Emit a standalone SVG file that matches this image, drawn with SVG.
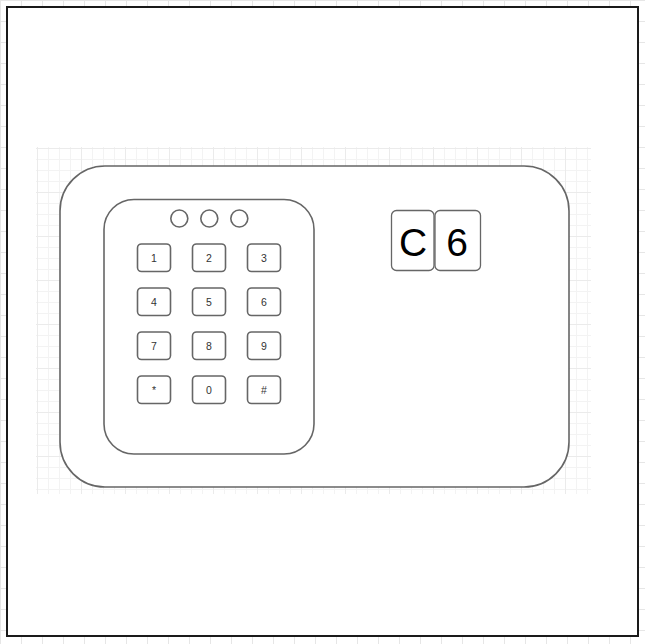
<svg xmlns="http://www.w3.org/2000/svg" width="645" height="644" viewBox="0 0 645 644">
<defs>
<pattern id="outer" x="0" y="0" width="21" height="21" patternUnits="userSpaceOnUse">
<path d="M0 0.5H21M0.5 0V21" stroke="#e6e6e6" stroke-width="1" fill="none"/>
</pattern>
<pattern id="minor" x="37" y="148" width="11" height="11" patternUnits="userSpaceOnUse">
<path d="M0 0.5H11M0.5 0V11" stroke="#f3f3f3" stroke-width="1" fill="none"/>
</pattern>
<pattern id="major" x="37" y="148" width="44" height="44" patternUnits="userSpaceOnUse">
<path d="M0 0.5H44M0.5 0V44" stroke="#ebebeb" stroke-width="1" fill="none"/>
</pattern>
</defs>
<style>
.dev{fill:#fff;stroke:#666;stroke-width:1.6}
.key{fill:#fff;stroke:#666;stroke-width:1.6}
.kl{font-family:"Liberation Sans",Arial,sans-serif;font-size:10.5px;fill:#333;text-anchor:middle}
.big{font-family:"Liberation Sans",Arial,sans-serif;font-size:39px;fill:#000;text-anchor:middle}
.disp{fill:#fff;stroke:#666;stroke-width:1.3}
</style>
<rect width="645" height="644" fill="#fff"/>
<rect width="645" height="644" fill="url(#outer)"/>
<rect x="7" y="7" width="631" height="629" fill="#fff" stroke="#1a1a1a" stroke-width="2"/>
<rect x="36" y="147" width="555" height="347" fill="url(#minor)"/>
<rect x="36" y="147" width="555" height="347" fill="url(#major)"/>
<g id="device">
<rect class="dev" x="60" y="166" width="509" height="321" rx="45" ry="45"/>
</g>
<g id="keypad">
<rect class="dev" x="104" y="199.5" width="210" height="254.5" rx="30" ry="30"/>
<circle class="dev" cx="179.3" cy="218.5" r="8.5"/>
<circle class="dev" cx="209.3" cy="218.5" r="8.5"/>
<circle class="dev" cx="239.3" cy="218.5" r="8.5"/>
</g>
<g id="key-1"><rect class="key" x="137.5" y="244" width="33" height="27.5" rx="4"/><text class="kl" x="154" y="261.5">1</text></g>
<g id="key-2"><rect class="key" x="192.5" y="244" width="33" height="27.5" rx="4"/><text class="kl" x="209" y="261.5">2</text></g>
<g id="key-3"><rect class="key" x="247.5" y="244" width="33" height="27.5" rx="4"/><text class="kl" x="264" y="261.5">3</text></g>
<g id="key-4"><rect class="key" x="137.5" y="288" width="33" height="27.5" rx="4"/><text class="kl" x="154" y="305.5">4</text></g>
<g id="key-5"><rect class="key" x="192.5" y="288" width="33" height="27.5" rx="4"/><text class="kl" x="209" y="305.5">5</text></g>
<g id="key-6"><rect class="key" x="247.5" y="288" width="33" height="27.5" rx="4"/><text class="kl" x="264" y="305.5">6</text></g>
<g id="key-7"><rect class="key" x="137.5" y="332" width="33" height="27.5" rx="4"/><text class="kl" x="154" y="349.5">7</text></g>
<g id="key-8"><rect class="key" x="192.5" y="332" width="33" height="27.5" rx="4"/><text class="kl" x="209" y="349.5">8</text></g>
<g id="key-9"><rect class="key" x="247.5" y="332" width="33" height="27.5" rx="4"/><text class="kl" x="264" y="349.5">9</text></g>
<g id="key-star"><rect class="key" x="137.5" y="376" width="33" height="27.5" rx="4"/><text class="kl" x="154" y="393.5">*</text></g>
<g id="key-0"><rect class="key" x="192.5" y="376" width="33" height="27.5" rx="4"/><text class="kl" x="209" y="393.5">0</text></g>
<g id="key-hash"><rect class="key" x="247.5" y="376" width="33" height="27.5" rx="4"/><text class="kl" x="264" y="393.5">#</text></g>
<g id="display-c"><rect class="disp" x="391.5" y="210.5" width="42.5" height="60" rx="5"/><text class="big" x="413" y="255.5">C</text></g>
<g id="display-6"><rect class="disp" x="435" y="210.5" width="45.5" height="60" rx="5"/><text class="big" x="457" y="255.5">6</text></g>
<g id="connectors"/>
</svg>
